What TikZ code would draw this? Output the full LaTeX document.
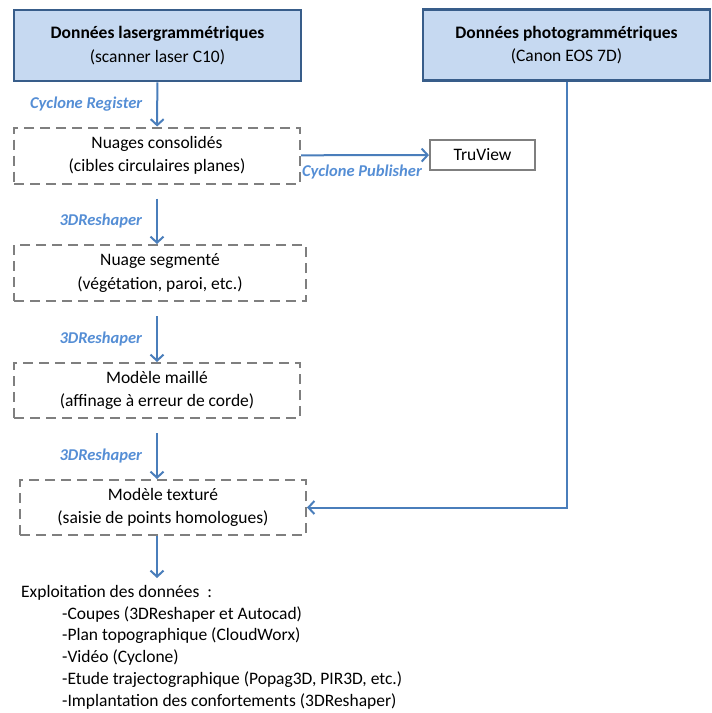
\documentclass[tikz,border=0pt]{standalone}
\usepackage{fontspec}
\setmainfont{Carlito}
\usetikzlibrary{arrows.meta}
\definecolor{fd}{HTML}{C6D9F1}
\definecolor{bd}{HTML}{385D8A}
\definecolor{ln}{HTML}{4A7EBB}
\definecolor{lb}{HTML}{558ED5}
\definecolor{gr}{HTML}{7F7F7F}

\begin{document}
\begin{tikzpicture}[x=1pt,y=-1pt]
            \tikzstyle{every node}=[font=\fontsize{17.5}{23.5}\selectfont,align=center,inner sep=0pt]
            \tikzstyle{source}=[draw=bd,fill=fd,line width=2.5pt,minimum width=287pt,minimum height=71pt]
            \tikzstyle{etape}=[draw=gr,line width=2pt,dash pattern=on 10pt off 6pt,minimum width=286pt,minimum height=56pt]
            \tikzstyle{fleche}=[draw=ln,line width=2pt,-{Straight Barb[length=6pt,width=13pt]}]
            \tikzstyle{logiciel}=[font=\fontsize{16.5}{18}\selectfont\bfseries\itshape,text=lb]
            \useasboundingbox (0,0) rectangle (712,713);
            % sources
            \node[source] (laser) at (157.5,45.5) {\textbf{Données lasergrammétriques}\\(scanner laser C10)};
            \node[source] (photo) at (566.5,45) {\textbf{Données photogrammétriques}\\(Canon EOS 7D)};
            % etapes
            \node[etape] (nuages) at (157,155.5) {Nuages consolidés\\(cibles circulaires planes)};
            \node[draw=gr,line width=2pt,minimum width=105pt,minimum height=30pt] (truview) at (482.5,155) {TruView};
            \node[etape,minimum width=292pt] (segm) at (160,273) {Nuage segmenté\\(végétation, paroi, etc.)};
            \node[etape,minimum height=55pt] (maille) at (157,390.5) {Modèle maillé\\(affinage à erreur de corde)};
            \node[etape,minimum height=55pt] (textu) at (163,507.5) {Modèle texturé\\(saisie de points homologues)};
            \node[anchor=north west,align=left,font=\fontsize{17.5}{21.8}\selectfont] (expl) at (21,585) {Exploitation des données~~:\\
              \hspace*{41pt}-Coupes (3DReshaper et Autocad)\\
              \hspace*{41pt}-Plan topographique (CloudWorx)\\
              \hspace*{41pt}-Vidéo (Cyclone)\\
              \hspace*{41pt}-Etude trajectographique (Popag3D, PIR3D, etc.)\\
              \hspace*{41pt}-Implantation des confortements (3DReshaper)};
            % fleches
            \draw[fleche] (laser) -- node[logiciel,left=14pt]{Cyclone Register} (nuages);
            \draw[fleche] (nuages) -- (truview) node[pos=0,logiciel,anchor=north west,yshift=-9pt]{Cyclone Publisher};
            \draw[fleche] ([yshift=-14pt]nuages.south) -- node[logiciel,left=14pt]{3DReshaper} (nuages.south |- segm.north);
            \draw[fleche] ([yshift=-14pt]segm.south -| nuages.south) -- node[logiciel,left=14pt]{3DReshaper} (nuages.south |- maille.north);
            \draw[fleche] ([yshift=-14pt]maille.south) -- node[logiciel,left=14pt]{3DReshaper} (maille.south |- textu.north);
            \draw[fleche] (textu.south -| maille.south) -- ([yshift=7pt]maille.south |- expl.north);
            \draw[fleche] (photo) |- (textu);
          \end{tikzpicture}
\end{document}
